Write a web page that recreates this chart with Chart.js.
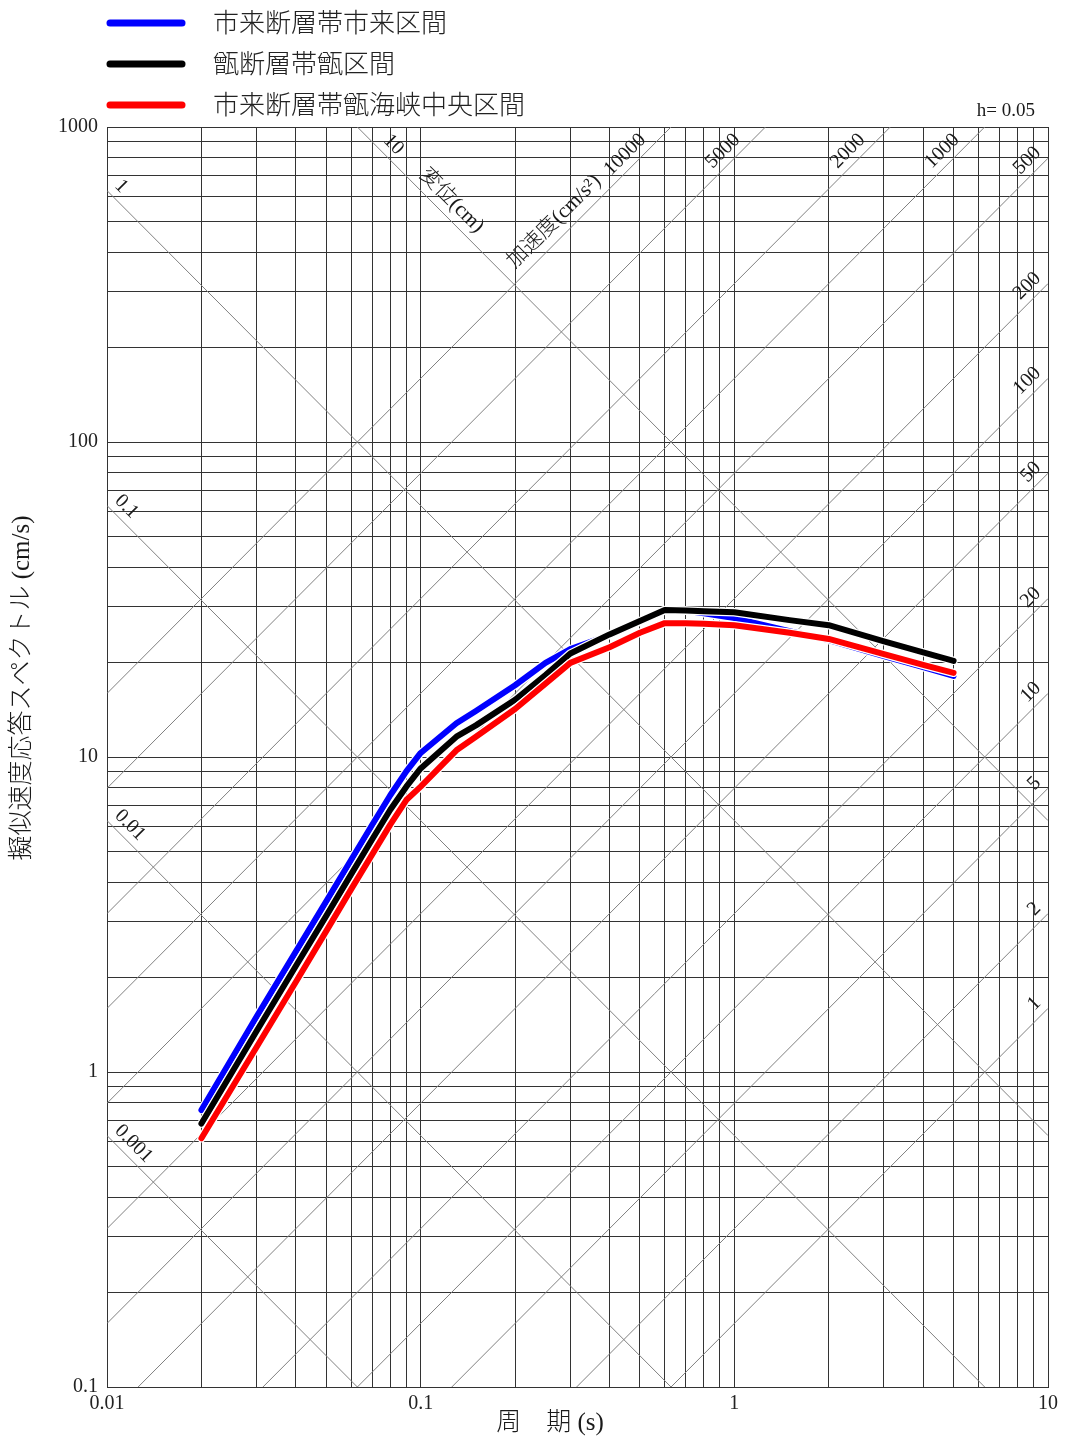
<!DOCTYPE html>
<html lang="ja">
<head>
<meta charset="utf-8">
<title>擬似速度応答スペクトル</title>
<script src="https://cdn.jsdelivr.net/npm/chart.js@4.4.1/dist/chart.umd.min.js"></script>
<style>
  html, body { margin: 0; padding: 0; background: #fff; }
  #wrap { position: relative; width: 1068px; height: 1443px; }
</style>
</head>
<body>
<div id="wrap"><canvas id="spectrum"></canvas></div>
<script>
// 周期 (s)
const periods = [0.02, 0.03, 0.04, 0.05, 0.06, 0.07, 0.08, 0.09, 0.1, 0.13, 0.15, 0.2, 0.25, 0.3,
                 0.4, 0.5, 0.6, 0.7, 0.8, 1, 1.5, 2, 3, 4, 5];
// 擬似速度応答 (cm/s)
const ichikiVals  = [0.757, 1.50, 2.41, 3.48, 4.71, 6.08, 7.56, 9.0, 10.3, 12.8, 14.0, 16.9, 19.9, 22.0,
                     24.4, 26.9, 29.2, 29.1, 28.6, 27.6, 25.1, 23.5, 20.9, 19.3, 18.1];
const koshikiVals = [0.686, 1.35, 2.17, 3.13, 4.24, 5.47, 6.8, 8.05, 9.2, 11.6, 12.6, 15.2, 18.2, 21.3,
                     24.5, 27.0, 29.3, 29.2, 29.0, 28.8, 27.2, 26.2, 23.3, 21.5, 20.2];
const kaikyoVals  = [0.616, 1.2, 1.93, 2.8, 3.8, 4.9, 6.1, 7.3, 8.05, 10.5, 11.6, 14.2, 17.1, 19.9,
                     22.3, 24.8, 26.6, 26.6, 26.5, 26.2, 24.8, 23.7, 21.2, 19.6, 18.5];

const seriesNames = ['市来断層帯市来区間', '甑断層帯甑区間', '市来断層帯甑海峡中央区間'];
const seriesColors = ['#0000ff', '#000000', '#ff0000'];

const xTickLabels = ['0.01', '0.1', '1', '10'];
const yTickLabels = ['0.1', '1', '10', '100', '1000'];

// 三軸 (tripartite) の斜線
const dispLines = [0.001, 0.01, 0.1, 1, 10];                                   // 変位 (cm)
const accLines = [1, 2, 5, 10, 20, 50, 100, 200, 500, 1000, 2000, 5000, 10000];  // 加速度 (cm/s2)

const TWO_PI = 2 * Math.PI;
const SERIF = '"Liberation Serif", "Noto Sans CJK JP", serif';

// 1-9 per decade, for the log grid
function logGrid(labels) {
  const decades = labels.map(Number);
  const out = [];
  for (let i = 0; i < decades.length - 1; i++) {
    for (let k = 1; k <= 9; k++) out.push(+(k * decades[i]).toPrecision(6));
  }
  out.push(decades[decades.length - 1]);
  return out;
}
const xGrid = logGrid(xTickLabels);
const yGrid = logGrid(yTickLabels);

function decadeLabel(labels, v) {
  const hit = labels.find(l => Math.abs(Number(l) - v) < Number(l) * 1e-6);
  return hit || '';
}

const xMin = Number(xTickLabels[0]), xMax = Number(xTickLabels[xTickLabels.length - 1]);
const yMin = Number(yTickLabels[0]), yMax = Number(yTickLabels[yTickLabels.length - 1]);

// reference lines as datasets: Sv = 2πD/T and Sv = A·T/2π
const refSets = [];
dispLines.forEach(d => refSets.push({
  data: [{ x: xMin, y: TWO_PI * d / xMin }, { x: xMax, y: TWO_PI * d / xMax }],
  borderColor: '#808080', borderWidth: 1, pointRadius: 0, order: 10
}));
accLines.forEach(a => refSets.push({
  data: [{ x: xMin, y: a * xMin / TWO_PI }, { x: xMax, y: a * xMax / TWO_PI }],
  borderColor: '#808080', borderWidth: 1, pointRadius: 0, order: 10
}));

const seriesVals = [ichikiVals, koshikiVals, kaikyoVals];
const mainSets = [];
seriesVals.forEach((vals, i) => {
  const pts = periods.map((t, j) => ({ x: t, y: vals[j] }));
  // thin white edge under each curve, as in the original plot
  mainSets.push({
    data: pts, borderColor: '#ffffff', borderWidth: 8.5,
    borderCapStyle: 'round', borderJoinStyle: 'round', pointRadius: 0, order: 3.5 - i
  });
  mainSets.push({
    label: seriesNames[i],
    data: pts,
    borderColor: seriesColors[i],
    borderWidth: 6,
    borderCapStyle: 'round',
    borderJoinStyle: 'round',
    pointRadius: 0,
    order: 3 - i   // red drawn last (on top)
  });
});

const labelsPlugin = {
  id: 'tripartiteLabels',
  afterDraw(chart) {
    const ctx = chart.ctx;
    const xs = chart.scales.x, ys = chart.scales.y;
    const a = chart.chartArea;
    ctx.save();
    ctx.fillStyle = '#1a1a1a';
    ctx.font = '20px ' + SERIF;
    ctx.textBaseline = 'bottom';

    // 変位 labels (lines going down-right)
    dispLines.forEach(d => {
      const svLeft = TWO_PI * d / xMin;
      let px, py, along;
      if (svLeft <= yMax) {
        px = a.left; py = ys.getPixelForValue(svLeft); along = 2;
      } else {
        px = xs.getPixelForValue(TWO_PI * d / yMax); py = a.top; along = 28;
      }
      ctx.save();
      ctx.translate(px, py);
      ctx.rotate(Math.PI / 4);
      ctx.textAlign = 'left';
      ctx.fillText(String(d), along, -3);
      if (svLeft > yMax) {
        ctx.font = '300 21px ' + SERIF;
        ctx.fillText('変位(cm)', 78, -4);
      }
      ctx.restore();
    });

    // 加速度 labels (lines going up-right)
    accLines.forEach(acc => {
      const svRight = acc * xMax / TWO_PI;
      ctx.save();
      if (svRight <= yMax) {
        ctx.translate(a.right - 1, ys.getPixelForValue(svRight) + 1);
        ctx.rotate(-Math.PI / 4);
        ctx.textAlign = 'right';
        ctx.fillText(String(acc), 0, -3);
      } else {
        ctx.translate(xs.getPixelForValue(TWO_PI * yMax / acc), a.top);
        ctx.rotate(-Math.PI / 4);
        ctx.textAlign = 'right';
        ctx.fillText(String(acc), -27, -3);
        if (acc === accLines[accLines.length - 1]) {
          ctx.font = '300 21px ' + SERIF;
          ctx.fillText('加速度(cm/s²)', -88, -5);
        }
      }
      ctx.restore();
    });

    // damping note
    ctx.font = '19px ' + SERIF;
    ctx.textAlign = 'right';
    ctx.textBaseline = 'middle';
    ctx.fillText('h= 0.05', 1035, 111);

    // legend
    seriesNames.forEach((name, i) => {
      const y = 23 + i * 41;
      ctx.strokeStyle = seriesColors[i];
      ctx.lineWidth = 7;
      ctx.lineCap = 'round';
      ctx.beginPath();
      ctx.moveTo(110, y);
      ctx.lineTo(182, y);
      ctx.stroke();
      ctx.font = '300 26px "Noto Sans CJK JP", sans-serif';
      ctx.textAlign = 'left';
      ctx.fillStyle = '#222';
      ctx.fillText(name, 213, y - 1);
    });

    // axis titles
    ctx.fillStyle = '#1a1a1a';
    ctx.font = '300 25px ' + SERIF;
    ctx.textAlign = 'center';
    ctx.fillText('周\u3000期 (s)', 550, 1423);
    ctx.save();
    ctx.translate(22, 688);
    ctx.rotate(-Math.PI / 2);
    ctx.fillText('擬似速度応答スペクトル (cm/s)', 0, 0);
    ctx.restore();

    ctx.restore();
  }
};

new Chart(document.getElementById('spectrum'), {
  type: 'line',
  data: { datasets: [...mainSets, ...refSets] },
  options: {
    responsive: true,
    maintainAspectRatio: false,
    animation: false,
    events: [],
    layout: { padding: { top: 127, right: 20, bottom: 0, left: 0 } },
    plugins: { legend: { display: false }, tooltip: { enabled: false } },
    elements: { line: { tension: 0 } },
    scales: {
      x: {
        type: 'logarithmic',
        min: xMin, max: xMax,
        afterBuildTicks: s => { s.ticks = xGrid.map(v => ({ value: v })); },
        afterFit: s => { s.height = 56; },
        grid: { color: '#333333', lineWidth: 1, drawTicks: false },
        border: { color: '#333333' },
        ticks: {
          autoSkip: false, maxRotation: 0, padding: 5,
          color: '#222', font: { family: SERIF, size: 20 },
          callback: v => decadeLabel(xTickLabels, v)
        }
      },
      y: {
        type: 'logarithmic',
        min: yMin, max: yMax,
        afterBuildTicks: s => { s.ticks = yGrid.map(v => ({ value: v })); },
        afterFit: s => { s.width = 107; },
        grid: { color: '#333333', lineWidth: 1, drawTicks: false },
        border: { color: '#333333' },
        ticks: {
          autoSkip: false, padding: 9,
          color: '#222', font: { family: SERIF, size: 20 },
          callback: v => decadeLabel(yTickLabels, v)
        }
      }
    }
  },
  plugins: [labelsPlugin]
});
</script>
</body>
</html>
